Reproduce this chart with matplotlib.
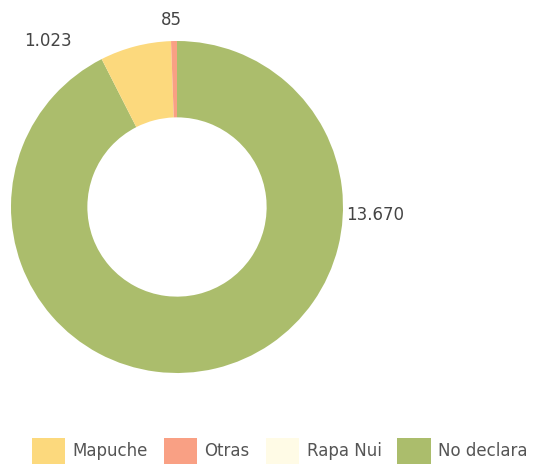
"""Donut chart: población según pueblo originario declarado."""
import matplotlib
matplotlib.use("Agg")
import matplotlib.pyplot as plt

# data (order in the legend)
categories = ["Mapuche", "Otras", "Rapa Nui", "No declara"]
values = [1023, 85, 0, 13670]
value_labels = ["1.023", "85", "", "13.670"]
colors = ["#fcd97d", "#f9a084", "#fffbe6", "#abbd6c"]

# drawing order around the ring: clockwise from 12 o'clock
draw_order = [3, 0, 1, 2]

W, H = 543, 471
cx, cy, R = 177, 207, 166  # pixel centre / radius of the ring

fig = plt.figure(figsize=(W / 100, H / 100), dpi=100)
ax = fig.add_axes([(cx - R) / W, (H - cy - R) / H, 2 * R / W, 2 * R / H])

wedges, _ = ax.pie([values[i] for i in draw_order],
                   colors=[colors[i] for i in draw_order],
                   startangle=90, counterclock=False, radius=1.0,
                   wedgeprops=dict(width=0.46, linewidth=0))
ax.set_xlim(-1, 1); ax.set_ylim(-1, 1)
ax.set_aspect("equal")
ax.axis("off")

# value labels placed outside the ring (positions in ring units)
label_pos = {"Mapuche": (-0.775, 1.0), "Otras": (-0.036, 1.127), "No declara": (1.195, -0.05)}
for cat, txt in zip(categories, value_labels):
    if cat in label_pos and txt:
        x, y = label_pos[cat]
        ax.text(x, y, txt, ha="center", va="center", fontsize=12,
                color="#444444", clip_on=False)

# legend in category order
handles = [wedges[draw_order.index(i)] for i in range(len(categories))]
leg = fig.legend(handles, categories, loc="center", bbox_to_anchor=(0.515, 1 - 451 / H),
                 ncol=4, frameon=False, fontsize=12, handlelength=2.0, handleheight=2.0,
                 handletextpad=0.45, columnspacing=0.95)
for t in leg.get_texts():
    t.set_color("#555555")

fig.savefig("out.png", dpi=100)
